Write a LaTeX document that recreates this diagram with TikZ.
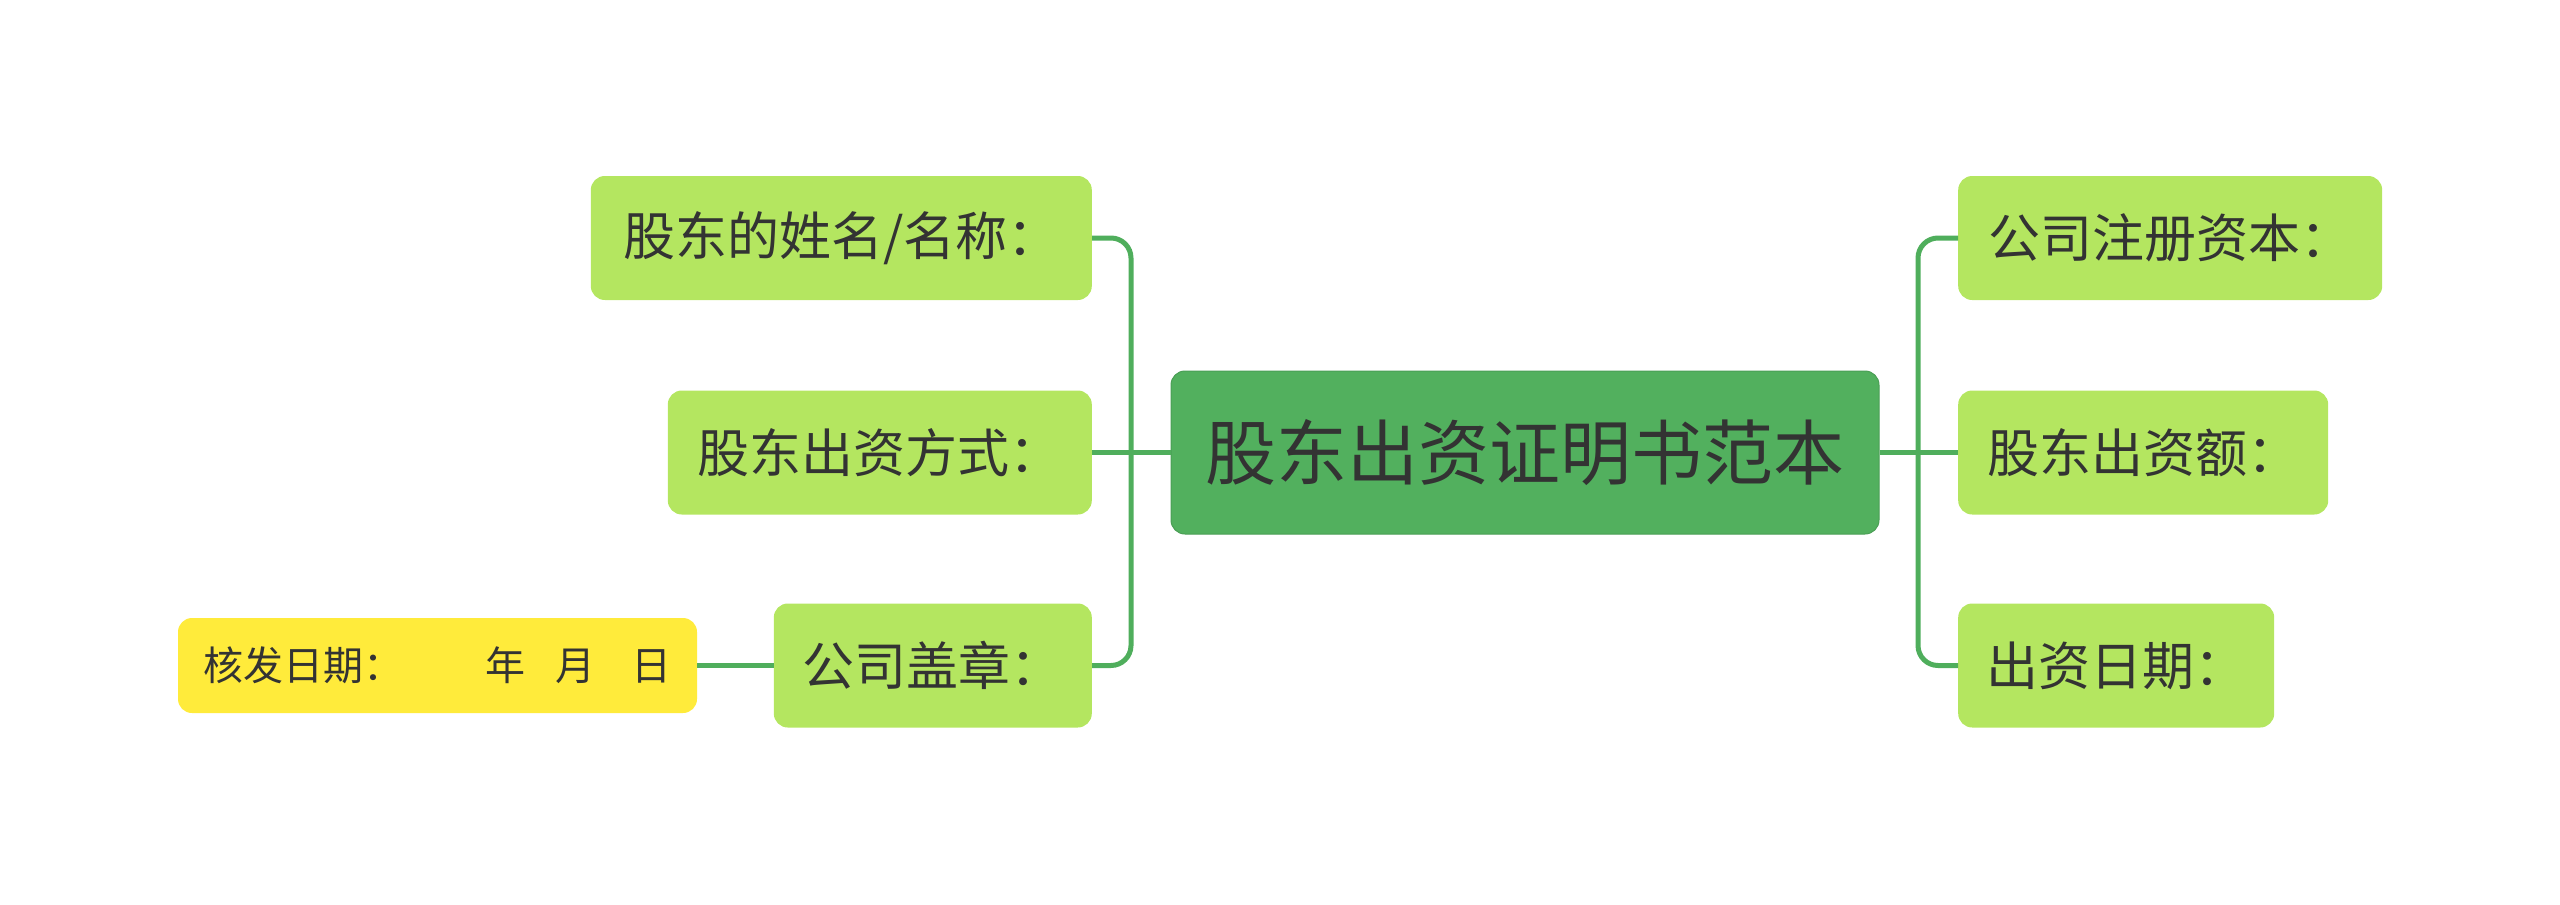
\documentclass[tikz,border=0pt]{standalone}
\usepackage{fontspec}
\setmainfont{Noto Sans CJK SC}
\definecolor{rootfill}{HTML}{52B05E}
\definecolor{leaffill}{HTML}{B4E660}
\definecolor{yelfill}{HTML}{FFEB3B}
\definecolor{linec}{HTML}{4FAE5C}
\definecolor{txt}{HTML}{333333}
\begin{document}
\begin{tikzpicture}[x=1pt,y=-1pt,
  rootbox/.style={fill=rootfill,draw=rootfill!90!black,line width=1pt,rounded corners=14pt,minimum width=708pt,minimum height=163pt,inner sep=0pt,text=txt,font=\fontsize{71}{80}\selectfont},
  leafbox/.style={fill=leaffill,rounded corners=14pt,minimum height=124pt,inner sep=0pt,text=txt,font=\fontsize{52}{60}\selectfont},
  yelbox/.style={fill=yelfill,rounded corners=14pt,minimum height=95pt,minimum width=519pt,inner sep=0pt,text=txt,font=\fontsize{40}{48}\selectfont},
  conn/.style={draw=linec,line width=5pt,rounded corners=20pt}]
\useasboundingbox (0,0) rectangle (2560,905);
\node[rootbox] (root) at (1525,452.5) {股东出资证明书范本};
\node[leafbox,minimum width=501pt,anchor=east] (l1) at (1092,238) {股东的姓名/名称：};
\node[leafbox,minimum width=424pt,anchor=east] (l2) at (1092,452.5) {股东出资方式：};
\node[leafbox,minimum width=318pt,anchor=east] (l3) at (1092,665.5) {公司盖章：};
\node[yelbox] (y1) at (437.5,665.5) {核发日期：\hspace{2.05em}年\hspace{0.75em}月\hspace{0.88em}日};
\node[leafbox,minimum width=424pt,anchor=west] (r1) at (1958,238) {公司注册资本：};
\node[leafbox,minimum width=370pt,anchor=west] (r2) at (1958,452.5) {股东出资额：};
\node[leafbox,minimum width=316pt,anchor=west] (r3) at (1958,665.5) {出资日期：};
\coordinate (lt) at (1131,452.5);
\coordinate (rt) at (1918,452.5);
\draw[conn] (l1.east) -| (lt) |- (l3.east);
\draw[conn] (root.west) -- (l2.east);
\draw[conn] (r1.west) -| (rt) |- (r3.west);
\draw[conn] (root.east) -- (r2.west);
\draw[conn] (l3.west) -- (y1.east);
\end{tikzpicture}
\end{document}
